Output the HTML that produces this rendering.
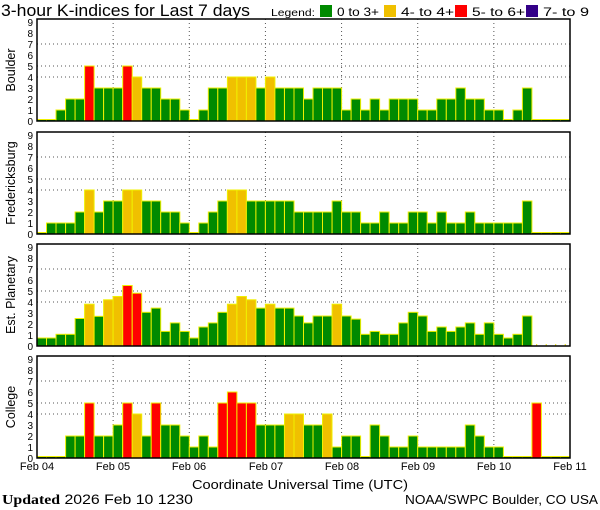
<!DOCTYPE html>
<html><head><meta charset="utf-8"><style>
body{margin:0;background:#fff;}
svg{display:block;font-family:"Liberation Sans",sans-serif;}
</style></head><body>
<svg id="s" width="600" height="510" xmlns="http://www.w3.org/2000/svg">
<text x="1" y="16" font-size="17" textLength="249" lengthAdjust="spacingAndGlyphs" fill="#000">3-hour K-indices for Last 7 days</text>
<text x="271" y="16" font-size="10.5" textLength="44" lengthAdjust="spacingAndGlyphs">Legend:</text>
<rect x="320" y="5" width="12" height="12" fill="#008a00"/>
<text x="337" y="16" font-size="12" textLength="42" lengthAdjust="spacingAndGlyphs">0 to 3+</text>
<rect x="384" y="5" width="12" height="12" fill="#f0c000"/>
<text x="401" y="16" font-size="12" textLength="53" lengthAdjust="spacingAndGlyphs">4- to 4+</text>
<rect x="455" y="5" width="12" height="12" fill="#ff0000"/>
<text x="472" y="16" font-size="12" textLength="53" lengthAdjust="spacingAndGlyphs">5- to 6+</text>
<rect x="526" y="5" width="12" height="12" fill="#330088"/>
<text x="543" y="16" font-size="12" textLength="46" lengthAdjust="spacingAndGlyphs">7- to 9</text>
<g id="g"></g>
<g font-size="11" text-anchor="middle">
<text x="37" y="470">Feb 04</text><text x="113" y="470">Feb 05</text><text x="189" y="470">Feb 06</text><text x="266" y="470">Feb 07</text><text x="342" y="470">Feb 08</text><text x="418" y="470">Feb 09</text><text x="494" y="470">Feb 10</text><text x="570" y="470">Feb 11</text>
</g>
<text x="192" y="489" font-size="13" textLength="216" lengthAdjust="spacingAndGlyphs">Coordinate Universal Time (UTC)</text>
<text x="2" y="504" font-size="14" textLength="191" lengthAdjust="spacingAndGlyphs"><tspan font-family="Liberation Serif,serif" font-weight="bold">Updated</tspan> 2026 Feb 10 1230</text>
<text x="405" y="504" font-size="13" textLength="193" lengthAdjust="spacingAndGlyphs">NOAA/SWPC Boulder, CO USA</text>
</svg>
<script>
var P=[
{n:"Boulder",b:121,v:[0,0,1,2,2,5,3,3, 3,5,4,3,3,2,2,1, 0,1,3,3,4,4,4,3, 4,3,3,3,2,3,3,3, 1,2,1,2,1,2,2,2, 1,1,2,2,3,2,2,1, 1,0,1,3,0,0,0,0]},
{n:"Fredericksburg",b:234,v:[0,1,1,1,2,4,2,3, 3,4,4,3,3,2,2,1, 0,1,2,3,4,4,3,3, 3,3,3,2,2,2,2,3, 2,2,1,1,2,1,1,2, 2,1,2,1,1,2,1,1, 1,1,1,3,0,0,0,0]},
{n:"Est. Planetary",b:346,v:[0.73,0.73,1.06,1.06,2.5,3.8,2.7,4.2, 4.5,5.5,4.8,3.06,3.45,1.33,2.1,1.33, 0.73,1.73,2.1,3.06,3.8,4.5,4.2,3.45, 3.8,3.45,3.45,2.73,2.1,2.73,2.73,3.8, 2.73,2.45,1.06,1.33,1.06,1.06,2.1,3.06, 2.73,1.33,1.73,1.33,1.73,2.1,1.06,2.1, 1.06,0.73,1.06,2.73,-1,-1,-1,-1]},
{n:"College",b:458,v:[0,0,0,2,2,5,2,2, 3,5,4,2,5,3,3,2, 1,2,1,5,6,5,5,3, 3,3,4,4,3,3,4,1, 2,2,0,3,2,1,1,2, 1,1,1,1,1,3,2,1, 1,0,0,0,5,0,0,0]}
];
var h="",L=37,R=570,U=11,W=(R-L)/56;
P.forEach(function(p){
 var b=p.b,t=b-102;
 h+='<rect x="'+L+'" y="'+t+'" width="'+(R-L)+'" height="102" fill="#fff"/>';
 [4,5,7].forEach(function(k){var y=b-k*U;h+='<line x1="'+L+'" x2="'+R+'" y1="'+y+'" y2="'+y+'" stroke="#555" stroke-dasharray="1,3"/>';});
 for(var d=1;d<7;d++){var x=L+d*(R-L)/7;h+='<line x1="'+x+'" x2="'+x+'" y1="'+t+'" y2="'+b+'" stroke="#555" stroke-dasharray="1,3"/>';}
 p.v.forEach(function(v,i){
  var x=L+i*W;
  if(v<0){h+='<line x1="'+(x+W/2)+'" x2="'+(x+W/2)+'" y1="'+(b-2)+'" y2="'+b+'" stroke="#e8e000"/>';return;}
  var c=v>=6.99?"#330088":v>=4.66?"#ff0000":v>=3.66?"#f0c000":"#008a00";
  var hh=Math.max(v*U,1.5);
  h+='<rect x="'+x.toFixed(1)+'" y="'+(b-hh).toFixed(1)+'" width="'+W.toFixed(2)+'" height="'+hh.toFixed(1)+'" fill="'+c+'" stroke="#f0f000" stroke-width="1"/>';
 });
 h+='<rect x="'+L+'" y="'+t+'" width="'+(R-L)+'" height="102" fill="none" stroke="#000" stroke-width="1.5"/>';
 for(var k=0;k<=9;k++){h+='<text x="33" y="'+(b-k*U+4)+'" font-size="10" text-anchor="end">'+k+'</text>';}
 var cy=t+51;
 h+='<text transform="translate(15,'+cy+') rotate(-90)" font-size="12.5" text-anchor="middle">'+p.n+'</text>';
});
document.getElementById("g").innerHTML=h;
</script>
</body></html>
